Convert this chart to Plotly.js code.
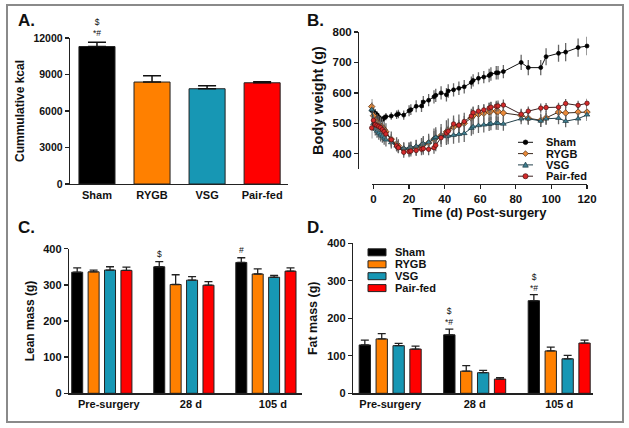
<!DOCTYPE html>
<html>
<head>
<meta charset="utf-8">
<script src="https://cdn.plot.ly/plotly-3.0.1.min.js"></script>
<style>html,body{margin:0;padding:0;background:#fff;}#chart{width:629px;height:428px;}</style>
</head>
<body>
<div id="chart"></div>
<script>
// ---------- DATA ----------
var groups = ['Sham', 'RYGB', 'VSG', 'Pair-fed'];
var barColors = ['#000000', '#FF8000', '#1797B4', '#FF0000'];

// Panel A: cumulative kcal
var kcal = [11300, 8380, 7830, 8320];
var kcalErr = [350, 520, 245, 90];

// Panel B: body weight over time
var days = [-1,0,1,2,3,4,5,6,7,10,13,14,17,20,21,24,27,28,31,34,35,38,41,42,45,48,51,55,56,59,62,65,66,69,70,73,83,87,94,97,104,108,115,120];
var bwSham = [542,538,533,528,520,515,512,518,522,524,528,531,527,541,545,556,557,570,576,587,592,600,594,606,610,615,620,634,641,648,652,657,662,666,666,670,700,683,683,719,730,734,749,754];
var bwShamErr = [18,15,14,12,12,10,10,10,12,12,14,14,15,18,18,20,20,20,20,22,22,22,22,22,22,22,22,20,20,20,20,22,22,22,22,22,25,25,25,28,28,30,30,30];
var bwRYGB = [555,525,508,502,497,492,487,480,472,448,432,426,416,415,418,421,427,430,436,448,452,460,472,478,488,494,500,518,525,530,533,538,540,540,539,534,526,517,510,518,537,534,537,537];
var bwRYGBErr = [25,28,28,28,28,28,28,28,28,25,22,22,22,22,22,25,25,28,30,35,35,38,38,38,38,35,35,30,30,30,30,30,30,30,30,28,22,22,22,22,22,22,22,22];
var bwVSG = [545,500,482,475,468,462,458,452,446,437,426,421,418,419,421,425,430,433,438,450,454,459,457,459,461,464,467,484,489,493,495,497,499,501,500,498,515,515,508,515,517,507,515,528];
var bwVSGErr = [25,25,22,22,22,22,22,22,22,20,18,18,18,18,18,20,20,22,22,25,25,28,28,28,28,28,28,25,25,25,25,22,22,22,22,22,18,18,20,20,20,20,20,20];
var bwPair = [485,510,496,493,490,486,479,473,465,446,426,420,405,407,409,411,415,417,415,420,428,453,468,474,498,494,506,524,535,540,544,550,553,556,557,560,530,540,550,552,553,565,559,566];
var bwPairErr = [35,20,18,18,18,18,18,18,18,18,18,18,18,18,18,18,20,20,20,20,20,20,18,18,18,18,18,18,18,18,18,18,18,18,18,18,15,15,15,15,15,15,15,15];

// Panels C & D
var timepoints = ['Pre-surgery', '28 d', '105 d'];
var lean = { Sham: [335, 350, 362], RYGB: [336, 301, 330], VSG: [341, 313, 321], 'Pair-fed': [340, 299, 338] };
var leanErr = { Sham: [12, 14, 13], RYGB: [5, 27, 14], VSG: [9, 10, 5], 'Pair-fed': [9, 10, 9] };
var fat = { Sham: [129, 156, 247], RYGB: [145, 59, 113], VSG: [127, 55, 92], 'Pair-fed': [118, 38, 134] };
var fatErr = { Sham: [13, 15, 16], RYGB: [14, 15, 10], VSG: [6, 6, 9], 'Pair-fed': [8, 4, 8] };

// ---------- HELPERS ----------
var W = 629, H = 428;
function px(x) { return x / W; }
function py(y) { return 1 - y / H; }
var FONT = 'Liberation Sans, Arial, Helvetica, sans-serif';
function f(size) { return { family: FONT, size: size, color: '#111', weight: 'bold' }; }
function zeros(n) { return new Array(n).fill(0); }

var traces = [];

// Panel A
traces.push({
  type: 'bar', x: groups, y: kcal, xaxis: 'x', yaxis: 'y', width: 0.655,
  marker: { color: barColors, line: { color: '#222', width: 1 } },
  error_y: { type: 'data', symmetric: false, array: kcalErr, arrayminus: zeros(kcalErr.length), color: '#111', thickness: 1.5, width: 9 },
  showlegend: false, hoverinfo: 'skip'
});

// Panel B
var bwSeries = [
  { y: bwSham, e: bwShamErr, sym: 'circle', mc: '#000000', ml: '#000000', lc: '#111111', size: 4 },
  { y: bwRYGB, e: bwRYGBErr, sym: 'diamond', mc: '#E98A3A', ml: '#4a2a10', lc: '#3a2a20', size: 5 },
  { y: bwVSG, e: bwVSGErr, sym: 'triangle-up', mc: '#3F7F90', ml: '#1d3a44', lc: '#24404a', size: 5 },
  { y: bwPair, e: bwPairErr, sym: 'circle', mc: '#D42A2A', ml: '#4a1010', lc: '#3a2020', size: 4.5 }
];
bwSeries.forEach(function (s, i) {
  traces.push({
    type: 'scatter', mode: 'lines+markers', x: days, y: s.y, xaxis: 'x2', yaxis: 'y2',
    name: groups[i], line: { color: s.lc, width: 1 },
    marker: { symbol: s.sym, color: s.mc, size: s.size, line: { color: s.ml, width: 0.7 } },
    error_y: { type: 'data', array: s.e, color: '#666', thickness: 1.3, width: 0 },
    showlegend: false, hoverinfo: 'skip', cliponaxis: false
  });
});

// Panels C & D
groups.forEach(function (g, i) {
  traces.push({
    type: 'bar', x: timepoints, y: lean[g], xaxis: 'x3', yaxis: 'y3', name: g,
    marker: { color: barColors[i], line: { color: '#222', width: 1 } },
    error_y: { type: 'data', symmetric: false, array: leanErr[g], arrayminus: zeros(3), color: '#222', thickness: 1.3, width: 4 },
    showlegend: false, hoverinfo: 'skip'
  });
});
groups.forEach(function (g, i) {
  traces.push({
    type: 'bar', x: timepoints, y: fat[g], xaxis: 'x4', yaxis: 'y4', name: g,
    marker: { color: barColors[i], line: { color: '#222', width: 1 } },
    error_y: { type: 'data', symmetric: false, array: fatErr[g], arrayminus: zeros(3), color: '#222', thickness: 1.3, width: 4 },
    showlegend: false, hoverinfo: 'skip'
  });
});

// ---------- AXES ----------
function axisBase(extra) {
  var a = {
    showline: true, linecolor: '#222', linewidth: 1.3, ticks: 'outside', ticklen: 4,
    tickcolor: '#222', tickwidth: 1.3, showgrid: false, zeroline: false,
    tickfont: f(11), fixedrange: true
  };
  for (var k in extra) a[k] = extra[k];
  return a;
}

var layout = {
  width: W, height: H, margin: { l: 0, r: 0, t: 0, b: 0 },
  paper_bgcolor: '#fff', plot_bgcolor: 'rgba(0,0,0,0)',
  barmode: 'group', bargap: 0.2, bargroupgap: 0.33,
  showlegend: false,
  xaxis: axisBase({ domain: [px(70), px(288)], anchor: 'y', range: [-0.49, 3.47], ticks: '', type: 'category' }),
  yaxis: axisBase({ domain: [py(184), py(38)], anchor: 'x', range: [0, 12000], tickvals: [0, 3000, 6000, 9000, 12000],
    tickformat: 'd', tickfont: f(10.5), title: { text: 'Cummulative kcal', font: f(12), standoff: 6 } }),
  xaxis2: axisBase({ domain: [px(371.7), px(587)], anchor: 'free', position: py(184), range: [-1, 120],
    tickvals: [0, 20, 40, 60, 80, 100, 120], tickfont: f(11.5),
    title: { text: 'Time (d) Post-surgery', font: f(13), standoff: 2 } }),
  yaxis2: axisBase({ domain: [py(169), py(32)], anchor: 'free', position: px(358), range: [350, 800],
    tickvals: [400, 500, 600, 700, 800], tickfont: f(11.5),
    title: { text: 'Body weight (g)', font: f(14.5), standoff: 4 } }),
  xaxis3: axisBase({ domain: [px(69), px(302)], anchor: 'y3', range: [-0.4, 2.44], ticks: '', type: 'category', ticklabelshift: 7 }),
  yaxis3: axisBase({ domain: [py(393.3), py(248.7)], anchor: 'x3', range: [0, 400], tickvals: [0, 100, 200, 300, 400],
    title: { text: 'Lean mass (g)', font: f(12), standoff: 6 } }),
  xaxis4: axisBase({ domain: [px(353), px(593)], anchor: 'y4', range: [-0.44, 2.4], ticks: '', type: 'category' }),
  yaxis4: axisBase({ domain: [py(393.3), py(243.3)], anchor: 'x4', range: [0, 400], tickvals: [0, 100, 200, 300, 400],
    title: { text: 'Fat mass (g)', font: f(12.5), standoff: 6 } }),
  shapes: [],
  annotations: []
};

// Frame
layout.shapes.push({ type: 'rect', xref: 'paper', yref: 'paper', x0: px(7), x1: px(623), y0: py(422), y1: py(5),
  line: { color: '#8a8a8a', width: 2 }, fillcolor: 'rgba(0,0,0,0)' });

// Panel labels
[['A.', 16, 20], ['B.', 305, 20], ['C.', 16, 228], ['D.', 305, 227]].forEach(function (p) {
  layout.annotations.push({ text: p[0], xref: 'paper', yref: 'paper', x: px(p[1]), y: py(p[2]),
    xanchor: 'left', yanchor: 'middle', showarrow: false, font: f(17) });
});

// Significance marks
function sig(text, xa, ya, x, y, shift) {
  layout.annotations.push({ text: text, xref: xa, yref: ya, x: x, y: y, yshift: shift,
    xanchor: 'center', yanchor: 'bottom', showarrow: false, font: { family: FONT, size: 8.5, color: '#111' } });
}
sig('$<br>*#', 'x', 'y', 0, kcal[0] + kcalErr[0], 2);
sig('$', 'x3', 'y3', 1 - 0.3, lean.Sham[1] + leanErr.Sham[1], 1);
sig('#', 'x3', 'y3', 2 - 0.3, lean.Sham[2] + leanErr.Sham[2], 1);
sig('$<br>*#', 'x4', 'y4', 1 - 0.3, fat.Sham[1] + fatErr.Sham[1], 0);
sig('$<br>*#', 'x4', 'y4', 2 - 0.3, fat.Sham[2] + fatErr.Sham[2], 0);

// Legend for panel D (bar swatches)
var dRows = [252.3, 264.3, 276.2, 288.1];
groups.forEach(function (g, i) {
  layout.shapes.push({ type: 'rect', xref: 'paper', yref: 'paper', x0: px(368), x1: px(386),
    y0: py(dRows[i] + 3.5), y1: py(dRows[i] - 3.5), fillcolor: barColors[i], line: { color: '#222', width: 1 } });
  layout.annotations.push({ text: g, xref: 'paper', yref: 'paper', x: px(393), y: py(dRows[i]),
    xanchor: 'left', yanchor: 'middle', showarrow: false, font: f(11) });
});

// Legend for panel B (line + marker)
var bRows = [142.3, 153.6, 164.9, 176.2];
bwSeries.forEach(function (s, i) {
  var yy = bRows[i];
  layout.shapes.push({ type: 'line', xref: 'paper', yref: 'paper', x0: px(518), x1: px(533), y0: py(yy), y1: py(yy),
    line: { color: s.lc, width: 1 } });
  var cx = 525.5, r = s.size / 2 + 0.3;
  var path;
  if (s.sym === 'circle') {
    layout.shapes.push({ type: 'circle', xref: 'paper', yref: 'paper', x0: px(cx - r), x1: px(cx + r), y0: py(yy + r), y1: py(yy - r),
      fillcolor: s.mc, line: { color: s.ml, width: 0.7 } });
  } else {
    if (s.sym === 'diamond') {
      path = 'M' + px(cx) + ',' + py(yy - r) + ' L' + px(cx + r) + ',' + py(yy) + ' L' + px(cx) + ',' + py(yy + r) + ' L' + px(cx - r) + ',' + py(yy) + ' Z';
    } else {
      path = 'M' + px(cx) + ',' + py(yy - r) + ' L' + px(cx + r) + ',' + py(yy + r * 0.8) + ' L' + px(cx - r) + ',' + py(yy + r * 0.8) + ' Z';
    }
    layout.shapes.push({ type: 'path', xref: 'paper', yref: 'paper', path: path, fillcolor: s.mc, line: { color: s.ml, width: 0.7 } });
  }
  layout.annotations.push({ text: groups[i], xref: 'paper', yref: 'paper', x: px(544), y: py(yy),
    xanchor: 'left', yanchor: 'middle', showarrow: false, font: f(11) });
});

Plotly.newPlot('chart', traces, layout, { staticPlot: true, displayModeBar: false });
</script>
</body>
</html>
